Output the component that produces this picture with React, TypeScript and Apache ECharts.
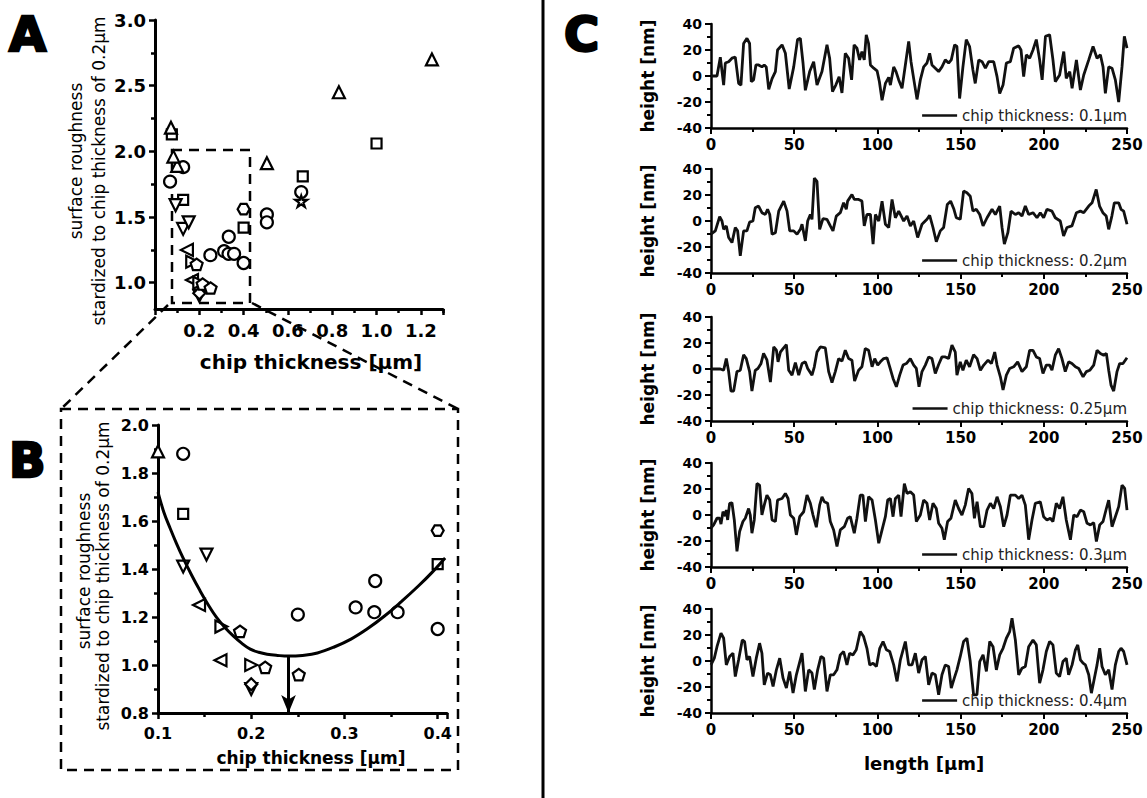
import React, { useEffect, useRef } from "react";
import * as echarts from "echarts";

// ---------- Panel A / B scatter data (chip thickness µm, standardized roughness) ----------
const circleB = [[0.127, 1.88], [0.25, 1.21], [0.312, 1.24], [0.333, 1.35], [0.332, 1.22], [0.357, 1.22], [0.4, 1.15]];
const circleAOnly = [[0.068, 1.77], [0.505, 1.52], [0.505, 1.46], [0.66, 1.69]];
const squareB = [[0.127, 1.63], [0.4, 1.42]];
const squareAOnly = [[0.076, 2.13], [0.667, 1.81], [1.0, 2.06]];
const triUpB = [[0.1, 1.89]];
const triUpAOnly = [[0.072, 2.18], [0.083, 1.96], [0.505, 1.91], [0.83, 2.45], [1.25, 2.7]];
const triDownB = [[0.127, 1.41], [0.152, 1.46], [0.2, 0.9]];
const triDownAOnly = [[0.093, 1.59]];
const triLeftB = [[0.144, 1.25], [0.167, 1.02]];
const triRightB = [[0.168, 1.16], [0.2, 1.0]];
const diamondB = [[0.2, 0.92]];
const pentagonB = [[0.188, 1.14], [0.215, 0.99], [0.251, 0.96]];
const hexagonB = [[0.4, 1.56]];
const starAOnly = [[0.66, 1.62]];

// fitted curve in panel B
const fitX = [0.1, 0.106, 0.113, 0.12, 0.127, 0.136, 0.145, 0.154, 0.163, 0.172, 0.181, 0.19, 0.199, 0.208, 0.217, 0.228, 0.24, 0.255, 0.271, 0.289, 0.307, 0.325, 0.343, 0.361, 0.379, 0.394, 0.408];
const fitY = [1.72, 1.64, 1.57, 1.505, 1.445, 1.375, 1.31, 1.25, 1.197, 1.155, 1.12, 1.09, 1.066, 1.053, 1.045, 1.04, 1.037, 1.04, 1.05, 1.075, 1.108, 1.152, 1.204, 1.264, 1.328, 1.386, 1.446];
const optimumX = 0.24;
const optimumY = 1.037;

// tick values of panel A's roughness axis
const aRoughMajor = [1.0, 1.5, 2.0, 2.5, 3.0];
const aRoughMinor = [1.25, 1.75, 2.25, 2.75];

// ---------- Panel C height profiles: [length µm, height nm] ----------
const profileNames = ["chip thickness: 0.1µm", "chip thickness: 0.2µm", "chip thickness: 0.25µm", "chip thickness: 0.3µm", "chip thickness: 0.4µm"];
const profile01 = [[0,0],[3.6,0],[5.6,14.5],[7.6,-7],[8.6,10],[10.6,11],[12.6,13.7],[14.6,14.5],[16.6,-5.7],[18,-7],[19.6,25],[21.6,29],[23.2,25],[24.2,-4.4],[25.6,-3],[27,8.5],[28.6,8.5],[30.6,7],[32,8.5],[33.2,7],[34.7,-10.3],[36.7,-2],[38.7,3.4],[40,20],[42.7,24],[44.7,17.5],[47,-10],[49.7,7],[52,28],[53.7,29],[55.3,10],[56.7,-11],[59.3,3.4],[61.7,11],[63.7,-7],[66.7,3.4],[69.7,24],[71.3,13.7],[73,-12],[75,-7],[77,-0.5],[78.7,-13],[80.7,17.5],[82.7,13.7],[84.5,-3],[86,24],[87.7,21.4],[89.3,12.4],[90.7,18.8],[92.1,12.4],[93.3,31.7],[94.7,25],[95.8,8.5],[97.8,6],[99.8,4],[101.2,-4.4],[102.8,-18.6],[104.8,-5.7],[106.8,-1],[107.8,-7],[109.8,7],[111.2,3.4],[112.8,-3],[114.8,-9.5],[116.8,8.5],[118.8,26.6],[120.2,11],[121.8,-2],[123.8,-18],[125.8,-3],[127.8,7],[129.8,10],[131.4,17.5],[132.8,8.5],[134.8,6],[136.8,3.4],[138.8,7],[140.8,12.4],[142.8,10],[144.4,12.4],[146.4,24],[147.8,22.7],[149.4,-17.3],[151.4,7],[153.4,28],[155.4,22.7],[157.4,4.6],[158.8,-5.7],[160.9,12.4],[162.9,11],[164.9,6],[166.9,11],[169.9,11],[171.9,-0.5],[173.5,-13.4],[175.5,-7],[177.5,10],[179.9,11],[181.9,21.4],[184.9,23.2],[186.3,20],[187.9,-0.5],[189.5,16.3],[191.5,13.7],[193.5,20],[195.5,28],[197.5,12.4],[199,-3],[201,30.5],[203.5,31.7],[205.5,12.4],[206.9,-4.4],[209.5,0.8],[212,18.8],[213.5,-1.8],[215.6,3.4],[217,-9.5],[219.6,12.4],[222,-10.8],[224,0.8],[227,12.4],[229.6,22.7],[232,13.7],[234,16.3],[235.6,7],[237,-13.4],[239,7],[241,6],[243,-3],[245,-20],[247,7],[248.4,30.5],[250,21.4]];
const profile02 = [[0,-10],[2.6,-7.6],[5.2,3.3],[6.6,0],[7.6,-6.4],[9.2,-3.8],[10.6,-12.7],[12.6,-16.6],[14.6,-5],[16,-7.6],[17.6,-26.8],[19.6,-7.6],[21.6,-7.6],[23.2,-0.8],[25.2,0],[26.6,10.2],[28.6,11.5],[30.6,6.4],[32.6,5],[34,9],[35.3,5],[36.7,-10.2],[38.7,-9],[40.7,7.6],[43.7,15.3],[45.7,7.6],[47.3,-7.6],[49.7,-7.6],[51.7,-10.2],[53.7,-6.4],[54.7,-2.5],[56.7,-15.3],[58.1,0],[59.7,5],[60.7,1.3],[62.1,33],[63.7,30.5],[65.3,-6.4],[67.3,1.8],[69.7,1.3],[71.7,-3.8],[73.3,-7.6],[75.3,3.8],[77.7,6.4],[79.7,14],[81.3,9],[82.1,15.3],[84.7,20.4],[86.1,16.6],[88.7,16.6],[90.7,15.3],[92.1,-3.8],[93.7,5],[95.8,5],[97.4,-17.8],[98.8,5],[100.8,0],[102.8,15.3],[104.8,-2.5],[106.8,-5],[108.8,16.6],[110.8,2.5],[112.8,7.6],[115.8,0],[117.8,3.8],[119.8,-3.8],[121.8,0],[124.2,-12.7],[126.8,-2.5],[129.8,1.3],[131.4,4.3],[133.4,-5],[135.4,-16],[137.8,-7.6],[139.8,-5],[142,12.7],[144,15.3],[146,9],[147.4,2.5],[149.8,1.3],[151.8,23],[153.8,21.7],[155.8,19],[157.4,7.6],[159.4,9],[161.5,5],[163.5,-3.8],[165.9,2.5],[168.9,9],[170.9,5],[173.5,11.5],[174.9,-5],[176.3,-17.8],[178.4,-9],[180.3,7.6],[182.9,5],[184.9,6.4],[186.9,3.8],[188.9,11.5],[190.9,5],[193.5,6.4],[195.9,2.5],[197.9,6.4],[199.9,2.5],[201.9,9],[204.9,7.6],[206.9,2.5],[209.9,0],[211.9,-11.5],[213.9,-5],[216.9,-3.8],[219.6,6.4],[222,7.6],[224,6.4],[227,11.5],[229,14],[231.5,24.2],[233.5,11.5],[235.5,6.4],[237.5,3.8],[239,-6.4],[240.9,3.8],[242.4,14],[245,14],[246.4,9],[248,7.6],[250,-2.5]];
const profile025 = [[0,0],[5.6,0],[7.6,-1],[9.2,8],[10.6,-2],[12,-17],[13.6,-17],[15.6,-2],[17.6,-1],[19.6,11],[21.2,8],[23.2,-2],[24.6,-17],[26.6,-1],[28.2,0.4],[30,4],[31.6,12],[33.6,7],[35.7,-10],[37.7,17],[39.3,14.5],[40.3,5.5],[41.7,13],[43.3,15.7],[45.3,18.8],[46.7,-1],[48.7,-4.7],[50.7,5],[52.7,-4.7],[54.7,4.2],[56.7,5.5],[58.1,0.4],[60.7,-4.7],[62.1,1.7],[63.7,13],[65.7,17],[68.7,16.2],[70.7,-2],[72.7,-10.4],[74.7,-2],[76.7,8],[78.7,6],[80.7,14.4],[82.7,8],[84.7,6.8],[86.3,-9.3],[88.7,-1],[90.7,1.7],[92.7,15.7],[94.7,14.4],[96.8,1.7],[98.4,8],[100.2,3],[101.8,5.5],[103.8,8],[105.8,8.6],[107.4,1.7],[109.4,-7.3],[111.4,-13.7],[113.4,-4.7],[115.4,3],[117.4,4.2],[119.8,8],[121.8,3],[123.4,0.4],[125,-13.7],[126.8,-2],[128.8,3],[130.8,9.3],[132.8,8],[134.8,-3.5],[136.8,3.5],[138.8,9.3],[140.8,9.3],[142.8,8],[144.8,18.3],[146.8,13],[147.8,-4.7],[149.8,5.5],[151.4,-1],[153.4,6.8],[155.4,1.7],[157.8,11],[159.9,8],[161.9,-1],[163.9,3],[166.5,6.8],[168.5,4.2],[170.5,13],[171.9,3],[173.9,-6],[175.5,-16.2],[177.5,-4.7],[179.5,0.4],[181.9,1.7],[184.3,5.5],[186.9,-2],[189.5,1.7],[191.5,14.4],[193.5,14.4],[195.5,9.3],[197.5,8],[199.5,-3.5],[201.5,3],[203.5,3],[204.9,-1],[206.9,10.6],[208.9,15.7],[210.9,8],[212.9,-2],[214.9,5.5],[216.9,4.2],[219,1.7],[221,0.4],[223.6,-6],[225.6,-2],[227.6,-1],[230,3],[232,14.4],[234,12],[236,10.6],[237.6,12],[239,-1],[240.4,-12.4],[242,-17],[244,-2],[245.6,4.2],[247.6,4.2],[250,8.6]];
const profile03 = [[0,-10],[1.6,-7.6],[3.6,-2.5],[5.2,-2.5],[6,-7],[7.2,2.5],[8.6,-0.8],[9.2,3.8],[10,-3.8],[11.2,9],[12.6,9.4],[14,-3.8],[15.6,-28],[17.2,-12.7],[19.2,-5],[20.6,-2.5],[22.6,5],[23.6,0],[24.6,-14],[26,-3.8],[27.6,24.2],[29.2,23],[30.6,0],[32,7.6],[33.6,15.3],[35.3,11.5],[36.7,-3.8],[38.7,-5],[40,11.5],[42.7,12.7],[44.7,16.6],[46.3,12.7],[47.7,0],[49.7,-2.5],[51.3,-15.3],[53.3,-1.3],[55.7,2.5],[57.7,15.3],[59.7,9],[61.3,0],[63.3,-9.4],[65.3,7.6],[66.7,14],[68.1,10.2],[70.1,9],[71.7,-5],[73.7,-11.5],[75.7,-24.2],[77.7,-11.5],[80.1,-9],[82.1,-2.5],[83.7,-1.3],[86.1,-14],[87.7,-2.5],[89.7,15.3],[91.3,15.3],[92.8,-5],[94.7,14],[96.8,11.5],[98.8,-3.8],[100.8,-21.7],[102.8,-11.5],[104.8,-1.3],[106.2,11.5],[107.8,12.7],[109.4,-1.3],[110.8,12.7],[112.8,15.3],[114.2,-1.3],[116.2,24.2],[117.8,16.6],[119.8,17.8],[121.8,15.3],[123.4,-5],[125.8,0],[127.8,11.5],[129.8,9],[131.4,-3.8],[133.4,9],[135.4,5],[136.8,-6.4],[138.8,-10.2],[140.2,-19],[142.2,-5],[144.2,-2.5],[146.8,11.5],[148.8,5],[150.8,0],[152.8,7.6],[154.8,20.4],[156.8,16.6],[158.3,-2.5],[159.9,10.2],[161.9,-9],[163.9,-9],[165.9,3.8],[167.9,9],[169.9,5],[171.9,14],[173.9,6.4],[175.9,-9],[177.9,0],[179.9,15.3],[182.9,15.3],[184.9,12.7],[186.9,15.3],[188.9,7.6],[190.9,-19],[192.9,-3.8],[194.9,9],[197.9,10.2],[199.9,-1.3],[201.9,-3.8],[203.9,-2.5],[205.5,-5],[207.5,9],[209.5,5],[211.5,14],[213.5,-3.8],[216,-19],[218,0],[220,-1.3],[222,3.8],[224,2.5],[226,-6.4],[228,-7.6],[230,-5.9],[231.6,-20.4],[233.6,-7.6],[235.6,-5],[237.6,5],[239,11.5],[241,-9],[243,-1.3],[245,6.4],[247,23],[248.6,20.4],[250,3.8]];
const profile04 = [[0,-3],[2,2.2],[3.6,11],[6,21.4],[7.6,17.5],[9.2,-3],[11.2,3.5],[13.2,6],[14.6,-12],[16.6,0.9],[18.8,16.2],[20.2,14.9],[21.6,0.9],[23.2,3.5],[25.2,-12],[27.2,2.2],[29.2,13.7],[30.6,6],[32,-18.3],[34,-9.3],[35.7,-10.6],[37.3,-19.6],[39.3,-6.8],[41.3,2.2],[43.3,-13.2],[45.3,-20.8],[47.3,-8],[49.3,-24.7],[51.3,-10.6],[54.7,6],[56.7,-23.4],[58.7,-6.8],[60.7,-9.3],[62.1,-22],[64.1,-6.8],[66.1,3.5],[67.7,2.2],[69.7,-23.4],[71.7,-10.6],[73.7,-10.6],[75.7,-6.8],[77.7,4.7],[79.7,7.3],[81.7,-3],[83.3,6],[85.3,4.7],[87.3,8.6],[89.7,22.6],[91.7,18.8],[93.7,9.8],[95.4,-3],[97.4,-1.7],[99.4,-4.2],[101.4,9.8],[103.4,15],[105.4,8.6],[107.4,7.3],[109.8,-3],[111.8,-15.7],[113.8,0.9],[116.8,15],[118.8,-3],[120.8,-3],[122.8,6],[124.8,-9.3],[126.8,0.9],[128.8,3.5],[130.8,-18.3],[132.8,-9.3],[134.8,-10.6],[136.8,-26],[138.8,-10.6],[140.8,-3],[142.8,-4.2],[144.4,-20.8],[146.2,-13.2],[147.8,-6.8],[149.8,3.5],[151.8,15],[153.8,17.5],[155.8,-0.4],[157.8,-26],[159.8,-26],[161.5,-0.4],[163.5,4.7],[165.5,-8],[167.5,15],[169.5,11],[171.5,-6.8],[173.5,4.7],[175.5,9.8],[177.5,17.5],[179.5,22.6],[180.9,32.9],[182.9,16.2],[184.9,-10.6],[186.9,-5.5],[188.9,-4.2],[190.9,11],[193.5,16.2],[195.5,12.4],[197.5,-17],[199.5,-6.8],[201.5,7.3],[203.5,15],[205.5,12.4],[207.5,-9.3],[209.5,-12],[211.5,-0.4],[213.5,2.2],[214.9,-10.6],[217,-3],[219,8.6],[220.4,12.4],[222,0.9],[223.6,-1.7],[225,-3],[227,-10.6],[228.6,-24.7],[230.4,-13.2],[232,-3],[233.6,9.8],[235,-4.2],[237,-10.6],[239,-6.8],[241,-22],[243,-3],[245,7.3],[246.4,9.8],[248,7.3],[250,-3]];
const profiles = [profile01, profile02, profile025, profile03, profile04];

// tick settings
const cLengthTicks = { min: 0, max: 250, interval: 50 };
const cHeightTicks = { min: -40, max: 40, interval: 20 };

const FONT = "DejaVu Sans";
const PENTAGON = "path://M50,0 L97.6,34.5 L79.4,90.5 L20.6,90.5 L2.4,34.5 Z";
const HEXAGON = "path://M25,0 L75,0 L100,43.3 L75,86.6 L25,86.6 L0,43.3 Z";
const STAR = "path://M50,0 L61,35 L98,35 L68,57 L79,91 L50,70 L21,91 L32,57 L2,35 L39,35 Z";

const cTops = [24, 169, 317, 463, 609];

export default function App() {
  const ref = useRef<HTMLDivElement>(null);

  useEffect(() => {
    if (!ref.current) return;
    const chart = echarts.init(ref.current, null, { renderer: "svg" });

    const axisCommon = (lw: number) => ({
      axisLine: { show: true, onZero: false, lineStyle: { color: "#000", width: lw } },
      axisTick: { show: true, length: 6, lineStyle: { color: "#000", width: lw - 0.5 } },
      minorTick: { show: true, splitNumber: 2, length: 4, lineStyle: { color: "#000", width: lw - 0.5 } },
      splitLine: { show: false },
      minorSplitLine: { show: false },
    });

    const scatterStyle = (size: number) => ({
      symbolSize: size,
      symbolKeepAspect: true,
      itemStyle: { color: "#fff", borderColor: "#000", borderWidth: 2.2, opacity: 1 },
      emphasis: { disabled: true },
    });

    const shapes: any[] = [
      { name: "circle", b: circleB, a: circleAOnly, symbol: "circle", rot: 0 },
      { name: "square", b: squareB, a: squareAOnly, symbol: "rect", rot: 0 },
      { name: "triangle up", b: triUpB, a: triUpAOnly, symbol: "triangle", rot: 0 },
      { name: "triangle down", b: triDownB, a: triDownAOnly, symbol: "triangle", rot: 180 },
      { name: "triangle left", b: triLeftB, a: [], symbol: "triangle", rot: 90 },
      { name: "triangle right", b: triRightB, a: [], symbol: "triangle", rot: -90 },
      { name: "diamond", b: diamondB, a: [], symbol: "diamond", rot: 0 },
      { name: "pentagon", b: pentagonB, a: [], symbol: PENTAGON, rot: 0 },
      { name: "hexagon", b: hexagonB, a: [], symbol: HEXAGON, rot: 0 },
      { name: "star", b: [], a: starAOnly, symbol: STAR, rot: 0 },
    ];

    const series: any[] = [];
    shapes.forEach((s) => {
      series.push({
        type: "scatter", name: "A " + s.name, xAxisIndex: 0, yAxisIndex: 0,
        data: [...s.b, ...s.a], symbol: s.symbol, symbolRotate: s.rot, ...scatterStyle(s.symbol === "rect" ? 10 : 12),
      });
      if (s.b.length) {
        series.push({
          type: "scatter", name: "B " + s.name, xAxisIndex: 1, yAxisIndex: 1,
          data: s.b, symbol: s.symbol, symbolRotate: s.rot, ...scatterStyle(s.symbol === "rect" ? 10 : 12),
        });
      }
    });
    series.push({
      type: "line", name: "fit", xAxisIndex: 1, yAxisIndex: 1, smooth: 0.4,
      showSymbol: false, symbol: "none",
      data: fitX.map((x, i) => [x, fitY[i]]),
      lineStyle: { color: "#000", width: 3 },
      emphasis: { disabled: true },
      markLine: {
        silent: true, symbol: ["none", "arrow"], symbolSize: [11, 18],
        label: { show: false },
        lineStyle: { color: "#000", width: 3, type: "solid" },
        data: [[{ coord: [optimumX, optimumY] }, { coord: [optimumX, 0.8] }]],
      },
    });
    profiles.forEach((p, i) => {
      series.push({
        type: "line", name: profileNames[i], xAxisIndex: 2 + i, yAxisIndex: 2 + i,
        data: p, showSymbol: false, symbol: "none",
        lineStyle: { color: "#111", width: 2.8 }, itemStyle: { color: "#111" },
        emphasis: { disabled: true },
      });
    });

    const grids: any[] = [
      { left: 155, top: 20, width: 288, height: 289 },
      { left: 158, top: 425, width: 289, height: 288 },
      ...cTops.map((t) => ({ left: 711, top: t, width: 416, height: 104 })),
    ];

    const xAxes: any[] = [
      {
        type: "value", gridIndex: 0, min: 0, max: 1.3, interval: 0.2, ...axisCommon(3),
        axisLabel: { margin: 12, color: "#000", fontFamily: FONT, fontWeight: "bold", fontSize: 18,
          formatter: (v: number) => (v < 0.1 || v > 1.25 ? "" : v.toFixed(1)) },
      },
      {
        type: "value", gridIndex: 1, min: 0.1, max: 0.41, interval: 0.1, ...axisCommon(3),
        axisLabel: { margin: 12, color: "#000", fontFamily: FONT, fontWeight: "bold", fontSize: 16,
          formatter: (v: number) => (v > 0.405 ? "" : v.toFixed(1)) },
      },
      ...cTops.map((_, i) => ({
        type: "value", gridIndex: 2 + i, ...cLengthTicks, ...axisCommon(2.5),
        axisLabel: { margin: 9, color: "#000", fontFamily: FONT, fontWeight: "bold", fontSize: 15 },
      })),
    ];
    const aY = axisCommon(3);
    const yAxes: any[] = [
      {
        type: "value", gridIndex: 0, min: 0.8, max: 3.0, ...aY,
        axisTick: { ...aY.axisTick, customValues: aRoughMajor },
        minorTick: { show: false },
        axisLabel: { margin: 9, color: "#000", fontFamily: FONT, fontWeight: "bold", fontSize: 18,
          customValues: aRoughMajor, formatter: (v: number) => v.toFixed(1) },
      },
      {
        type: "value", gridIndex: 1, min: 0.8, max: 2.0, interval: 0.2, ...axisCommon(3),
        axisLabel: { margin: 9, color: "#000", fontFamily: FONT, fontWeight: "bold", fontSize: 16,
          formatter: (v: number) => v.toFixed(1) },
      },
      ...cTops.map((_, i) => ({
        type: "value", gridIndex: 2 + i, ...cHeightTicks, ...axisCommon(2.5),
        axisLabel: { margin: 9, color: "#000", fontFamily: FONT, fontWeight: "bold", fontSize: 14 },
      })),
      {
        // minor ticks of panel A roughness axis
        type: "value", gridIndex: 0, min: 0.8, max: 3.0, position: "left", offset: 0,
        axisLine: { show: false, onZero: false },
        axisTick: { show: true, length: 4, customValues: aRoughMinor, lineStyle: { color: "#000", width: 2.5 } },
        axisLabel: { show: false },
        splitLine: { show: false },
      },
    ];

    const legends = profileNames.map((n, i) => ({
      data: [n], right: 20, top: cTops[i] + 93 - 9, icon: "rect", itemWidth: 35, itemHeight: 2.5,
      selectedMode: false, padding: 0,
      textStyle: { color: "#222", fontFamily: FONT, fontSize: 15 },
    }));

    const dashed = { stroke: "#000", lineWidth: 2.5, lineDash: [10, 7], fill: "none" };
    const letter = (t: string, x: number, y: number) => ({
      type: "text", x, y,
      style: { text: t, font: `bold 48px "${FONT}"`, fill: "#000", stroke: "#000", lineWidth: 2.5, textAlign: "left", textVerticalAlign: "middle" },
    });
    const vtext = (t: string, x: number, y: number, size: number, bold: boolean) => ({
      type: "text", x, y, rotation: Math.PI / 2,
      style: { text: t, font: `${bold ? "bold " : ""}${size}px "${FONT}"`, fill: "#000", textAlign: "center", textVerticalAlign: "middle" },
    });
    const htext = (t: string, x: number, y: number, size: number) => ({
      type: "text", x, y,
      style: { text: t, font: `bold ${size}px "${FONT}"`, fill: "#000", textAlign: "center", textVerticalAlign: "middle" },
    });

    const graphic: any[] = [
      letter("A", 9, 34),
      letter("B", 9, 460),
      letter("C", 564, 34),
      { type: "line", shape: { x1: 543, y1: 0, x2: 543, y2: 798 }, style: { stroke: "#000", lineWidth: 3 } },
      { type: "rect", shape: { x: 172, y: 150, width: 78, height: 153 }, style: dashed },
      { type: "line", shape: { x1: 168, y1: 305, x2: 61, y2: 409 }, style: dashed },
      { type: "line", shape: { x1: 252, y1: 303, x2: 458, y2: 409 }, style: dashed },
      { type: "rect", shape: { x: 61, y: 409, width: 397, height: 361 }, style: dashed },
      vtext("surface roughness", 76, 161, 17, false),
      vtext("stardized to chip thickness of 0.2µm", 99, 171, 17, false),
      htext("chip thickness [µm]", 311, 362, 20),
      vtext("surface roughness", 84, 571, 17, false),
      vtext("stardized to chip thickness of 0.2µm", 103, 576, 17, false),
      htext("chip thickness [µm]", 311, 758, 17),
      ...cTops.map((t) => vtext("height [nm]", 648, t + 52, 17, true)),
      htext("length [µm]", 924, 763, 18),
    ];

    chart.setOption({
      animation: false,
      backgroundColor: "#fff",
      textStyle: { fontFamily: FONT },
      grid: grids,
      xAxis: xAxes,
      yAxis: yAxes,
      legend: legends,
      series,
      graphic,
    });

    return () => chart.dispose();
  }, []);

  return <div ref={ref} style={{ position: "fixed", left: 0, top: 0, width: 1147, height: 798, background: "#fff" }} />;
}
